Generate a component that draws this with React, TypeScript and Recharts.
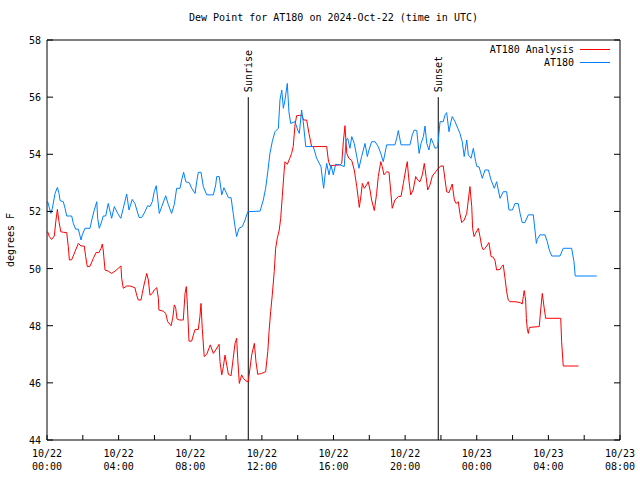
import React from 'react';
import { LineChart, Line, XAxis, YAxis, ReferenceLine } from 'recharts';

const FONT = '"DejaVu Sans Mono", "Liberation Mono", monospace';

// hours since 10/22 00:00 UTC
const ANALYSIS_HOURS = [
  0.04, 0.13, 0.26, 0.41, 0.49, 0.58, 0.67, 0.77, 0.91, 1.10, 1.19, 1.25, 1.38, 1.56, 1.75, 1.90,
  2.08, 2.16, 2.25, 2.40, 2.59, 2.74, 2.90, 3.02, 3.09, 3.14, 3.24, 3.42, 3.61, 3.80, 3.98, 4.13,
  4.17, 4.26, 4.45, 4.64, 4.91, 5.01, 5.10, 5.25, 5.32, 5.43, 5.57, 5.66, 5.75, 5.88, 5.99, 6.13,
  6.22, 6.25, 6.49, 6.63, 6.74, 6.93, 7.02, 7.11, 7.19, 7.26, 7.39, 7.61, 7.71, 7.78, 7.84, 7.93,
  8.08, 8.17, 8.27, 8.45, 8.54, 8.60, 8.67, 8.78, 8.92, 9.01, 9.12, 9.29, 9.42, 9.61, 9.66, 9.76,
  9.85, 9.94, 10.04, 10.13, 10.28, 10.40, 10.50, 10.59, 10.65, 10.74, 10.87, 10.96, 11.10, 11.24,
  11.43, 11.58, 11.67, 11.77, 11.99, 12.21, 12.33, 12.40, 12.49, 12.58, 12.69, 12.77, 12.86, 12.97,
  13.05, 13.14, 13.24, 13.29, 13.42, 13.57, 13.66, 13.75, 13.85, 13.94, 14.22, 14.33, 14.50, 14.63,
  14.78, 15.62, 15.71, 15.80, 16.36, 16.46, 16.55, 16.64, 16.74, 16.86, 17.02, 17.16, 17.30, 17.39,
  17.44, 17.54, 17.61, 17.72, 17.85, 17.94, 18.04, 18.13, 18.28, 18.41, 18.50, 18.64, 18.72, 18.82,
  18.97, 19.10, 19.19, 19.28, 19.43, 19.62, 19.77, 19.90, 20.03, 20.12, 20.21, 20.31, 20.45, 20.59,
  20.70, 20.83, 20.96, 21.07, 21.17, 21.26, 21.39, 21.52, 21.71, 21.85, 22.00, 22.13, 22.23, 22.32,
  22.45, 22.56, 22.63, 22.75, 22.84, 22.97, 23.06, 23.16, 23.30, 23.44, 23.53, 23.62, 23.72, 23.77,
  23.85, 23.94, 24.09, 24.18, 24.28, 24.37, 24.46, 24.56, 24.68, 24.80, 24.92, 25.02, 25.11, 25.30,
  25.39, 25.48, 25.58, 25.67, 25.76, 25.86, 26.14, 26.42, 26.54, 26.60, 26.65, 26.73, 26.77, 26.82,
  26.88, 26.94, 27.49, 27.57, 27.66, 27.75, 27.85, 28.69, 28.74, 28.83, 29.68,
];
const ANALYSIS_DEWPOINT = [
  51.29, 51.12, 51.02, 51.14, 51.64, 52.07, 51.64, 51.29, 51.27, 51.26, 50.77, 50.3, 50.31, 50.59, 50.88, 50.79,
  50.79, 50.42, 50.07, 50.08, 50.36, 50.56, 50.56, 50.71, 50.86, 50.65, 49.95, 49.91, 49.83, 49.91, 50.01, 50.09,
  49.66, 49.31, 49.39, 49.39, 49.33, 49.07, 48.9, 48.9, 49.13, 49.46, 49.83, 49.6, 49.07, 49.13, 49.25, 49.33,
  48.96, 48.55, 48.51, 48.43, 48.14, 48.0, 48.26, 48.73, 48.61, 48.24, 48.2, 48.2, 49.13, 49.37, 48.73, 47.46,
  47.46, 47.67, 47.87, 47.87, 48.32, 48.78, 47.91, 46.92, 47.0, 47.15, 47.33, 47.03, 47.15, 47.35, 46.74, 46.28,
  46.57, 46.97, 46.62, 46.3, 46.25, 46.86, 47.38, 47.56, 46.86, 45.98, 46.28, 46.16, 46.07, 46.04,
  46.97, 47.38, 46.74, 46.3, 46.33, 46.39, 47.09, 47.79, 48.49, 49.07, 49.89, 50.71, 51.06, 51.35,
  51.76, 52.52, 53.39, 53.74, 53.65, 53.88, 54.03, 54.27, 55.03, 55.35, 55.37, 55.2, 55.2, 54.73,
  54.27, 54.27, 53.8, 53.6, 53.63, 53.68, 54.44, 55.0, 54.03, 53.86, 53.78, 53.45, 52.87, 52.42,
  52.14, 52.58, 52.98, 52.81, 52.93, 53.04, 52.75, 52.4, 52.03, 52.63, 53.22, 53.74, 53.57, 53.28,
  53.39, 53.37, 52.75, 52.11, 52.4, 52.52, 52.53, 52.98, 53.45, 53.74, 53.1, 52.58, 52.75, 53.22,
  53.1, 53.04, 53.28, 53.68, 53.22, 52.75, 52.93, 53.24, 53.39, 53.51, 53.59, 53.59, 53.1, 52.69,
  52.66, 52.84, 52.96, 52.4, 52.28, 52.34, 51.93, 51.61, 51.7, 51.93, 52.4, 52.87, 52.17, 51.41,
  51.12, 51.24, 51.41, 51.12, 50.77, 50.65, 50.71, 50.79, 50.91, 50.42, 50.4, 50.28, 49.95, 49.97,
  50.07, 50.13, 49.66, 49.19, 48.9, 48.84, 48.84, 48.81, 48.76, 49.02, 49.23, 48.9, 48.26, 47.9,
  47.73, 47.94, 47.97, 48.55, 49.13, 48.69, 48.26, 48.26, 47.44, 46.59, 46.59,
];

const STATION_HOURS = [
  0.04, 0.11, 0.22, 0.30, 0.45, 0.58, 0.67, 0.73, 0.91, 1.01, 1.10, 1.38, 1.47, 1.60, 1.75, 1.90,
  1.97, 2.12, 2.40, 2.50, 2.64, 2.78, 2.83, 2.92, 3.05, 3.14, 3.28, 3.42, 3.61, 3.76, 3.95, 4.12,
  4.26, 4.45, 4.58, 4.76, 4.91, 5.14, 5.29, 5.47, 5.62, 5.75, 5.88, 5.99, 6.10, 6.18, 6.27, 6.41,
  6.63, 6.77, 6.96, 7.11, 7.24, 7.43, 7.52, 7.63, 7.75, 7.95, 8.08, 8.27, 8.36, 8.45, 8.60, 8.73,
  8.92, 9.29, 9.42, 9.48, 9.62, 9.76, 9.88, 10.00, 10.13, 10.28, 10.40, 10.50, 10.59, 10.72, 10.91,
  11.06, 11.21, 11.90, 12.08, 12.21, 12.33, 12.45, 12.58, 12.73, 12.92, 13.01, 13.11, 13.20, 13.29,
  13.42, 13.51, 13.61, 13.85, 14.00, 14.09, 14.22, 14.31, 14.45, 14.87, 15.06, 15.30, 15.40, 15.45,
  15.53, 15.62, 15.75, 15.86, 15.99, 16.12, 16.36, 16.60, 16.70, 16.79, 16.92, 17.02, 17.16, 17.30,
  17.42, 17.57, 17.76, 17.89, 17.98, 18.13, 18.32, 18.50, 18.64, 18.78, 18.97, 19.43, 19.53, 19.62,
  19.77, 20.27, 20.40, 20.51, 20.65, 20.78, 20.89, 21.02, 21.11, 21.21, 21.33, 21.45, 21.57, 21.67,
  21.82, 21.89, 21.95, 22.13, 22.23, 22.32, 22.45, 22.56, 22.63, 22.79, 22.94, 23.06, 23.19, 23.30,
  23.44, 23.53, 23.68, 23.81, 23.94, 24.01, 24.13, 24.31, 24.46, 24.65, 24.80, 24.98, 25.11, 25.30,
  25.48, 25.67, 25.80, 25.99, 26.14, 26.32, 26.42, 26.54, 26.69, 26.88, 27.16, 27.25, 27.33, 27.38,
  27.53, 27.81, 27.94, 28.05, 28.19, 28.65, 28.83, 29.30, 29.43, 29.50, 30.70,
];
const STATION_DEWPOINT = [
  52.34, 52.17, 51.93, 52.11, 52.63, 52.84, 52.63, 52.38, 52.34, 52.11, 51.84, 51.84, 51.58, 51.38, 51.38, 51.0,
  51.18, 51.41, 51.41, 51.7, 52.05, 52.34, 51.76, 51.41, 51.64, 51.84, 51.84, 52.28, 51.76, 52.17, 51.93, 51.76,
  52.11, 52.61, 52.05, 52.42, 52.28, 51.79, 51.79, 51.99, 52.2, 52.17, 52.34, 52.69, 52.9, 52.46, 51.93, 52.17,
  52.55, 52.25, 51.93, 52.25, 52.81, 52.81, 53.1, 53.37, 53.04, 53.0, 52.81, 52.63, 53.04, 53.37, 53.37, 52.87,
  52.58, 52.58, 52.93, 53.22, 53.22, 52.58, 52.83, 52.67, 52.48, 52.48, 51.93, 51.47, 51.12, 51.41, 51.47,
  51.7, 51.99, 52.01, 52.4, 52.81, 53.39, 54.03, 54.44, 54.79, 54.91, 55.9, 56.25, 55.61, 55.9,
  56.48, 55.49, 55.08, 55.14, 54.85, 54.73, 55.55, 55.14, 54.27, 54.27, 53.86, 53.57, 53.04, 52.81,
  53.28, 53.68, 53.28, 53.63, 53.28, 53.65, 53.63, 53.57, 54.5, 54.56, 54.21, 54.62, 54.38, 53.92,
  53.51, 53.92, 54.38, 53.92, 54.15, 54.44, 54.44, 54.27, 54.03, 53.74, 54.33, 54.33, 54.56, 54.83,
  54.33, 54.33, 54.68, 54.85, 54.83, 54.03, 54.38, 54.62, 54.99, 54.38, 54.15, 54.56, 54.38, 54.21,
  54.24, 54.73, 55.14, 55.14, 55.38, 55.46, 54.79, 55.14, 55.32, 55.14, 54.91, 54.73, 54.44, 53.92,
  54.5, 53.98, 53.86, 54.21, 53.74, 53.57, 53.56, 53.16, 53.45, 53.45, 53.1, 52.81, 53.04, 52.46,
  52.69, 52.69, 52.05, 52.05, 52.28, 52.27, 51.93, 51.61, 51.61, 51.88, 51.88, 51.35, 50.88, 51.02,
  51.18, 51.18, 50.94, 50.65, 50.44, 50.44, 50.71, 50.71, 50.24, 49.74, 49.74,
];

const Y_TICKS = [44, 46, 48, 50, 52, 54, 56, 58];
const X_TICKS = [0, 2, 4, 6, 8, 10, 12, 14, 16, 18, 20, 22, 24, 26, 28, 30, 32];
const SUNRISE_HOUR = 11.24;
const SUNSET_HOUR = 21.85;

const SERIES = [
  { name: 'AT180 Analysis', color: '#ff0000' },
  { name: 'AT180', color: '#0080ff' },
];

const analysisData = ANALYSIS_HOURS.map((h, i) => ({ hour: h, value: ANALYSIS_DEWPOINT[i] }));
const stationData = STATION_HOURS.map((h, i) => ({ hour: h, value: STATION_DEWPOINT[i] }));

function TimeTick({ x, y, payload }: any) {
  const h = payload.value as number;
  if (h % 4 !== 0) return <g />;
  const day = h < 24 ? '10/22' : '10/23';
  const hh = String(h % 24).padStart(2, '0');
  return (
    <text x={x} y={y} textAnchor="middle" fontFamily={FONT} fontSize={10} fill="#000">
      <tspan x={x} dy={9}>{day}</tspan>
      <tspan x={x} dy={13}>{hh}:00</tspan>
    </text>
  );
}

function ValueTick({ x, y, payload }: any) {
  return (
    <text x={x} y={y} dy={4} textAnchor="end" fontFamily={FONT} fontSize={10} fill="#000">
      {payload.value}
    </text>
  );
}

const blank = () => <g />;

function SunLabel({ viewBox, text }: any) {
  const ax = viewBox.x + 4;
  const ay = viewBox.y - 5;
  return (
    <text x={ax} y={ay} transform={`rotate(-90, ${ax}, ${ay})`} fontFamily={FONT} fontSize={10} fill="#000">
      {text}
    </text>
  );
}

export default function App() {
  return (
    <div style={{ position: 'absolute', left: 0, top: 0, width: 640, height: 480, background: '#fff' }}>
      <div style={{ position: 'absolute', left: 47, top: 12, width: 573, textAlign: 'center', fontFamily: FONT, fontSize: 10 }}>
        Dew Point for AT180 on 2024-Oct-22 (time in UTC)
      </div>
      <div style={{ position: 'absolute', left: 10, top: 240, fontFamily: FONT, fontSize: 10, whiteSpace: 'nowrap', transform: 'translate(-50%, -50%) rotate(-90deg)' }}>
        degrees F
      </div>
      <LineChart width={640} height={480} margin={{ top: 0, right: 0, bottom: 0, left: 0 }}>
        <XAxis
          dataKey="hour"
          type="number"
          domain={[0, 32]}
          ticks={X_TICKS}
          allowDataOverflow
          height={40}
          stroke="#000"
          tickSize={-5}
          tickMargin={13}
          tick={<TimeTick />}
          interval={0}
        />
        <XAxis
          xAxisId="top"
          orientation="top"
          type="number"
          domain={[0, 32]}
          ticks={X_TICKS}
          allowDataOverflow
          height={40}
          stroke="#000"
          tickSize={-5}
          tick={blank}
          interval={0}
        />
        <YAxis
          type="number"
          domain={[44, 58]}
          ticks={Y_TICKS}
          allowDataOverflow
          width={47}
          stroke="#000"
          tickSize={-6}
          tickMargin={12}
          tick={<ValueTick />}
          interval={0}
        />
        <YAxis
          yAxisId="right"
          orientation="right"
          type="number"
          domain={[44, 58]}
          ticks={Y_TICKS}
          allowDataOverflow
          width={20}
          stroke="#000"
          tickSize={-6}
          tick={blank}
          interval={0}
        />
        <ReferenceLine
          segment={[{ x: SUNRISE_HOUR, y: 44 }, { x: SUNRISE_HOUR, y: 56 }]}
          stroke="#000"
          label={<SunLabel text="Sunrise" />}
        />
        <ReferenceLine
          segment={[{ x: SUNSET_HOUR, y: 44 }, { x: SUNSET_HOUR, y: 56 }]}
          stroke="#000"
          label={<SunLabel text="Sunset" />}
        />
        <Line
          data={analysisData}
          dataKey="value"
          name={SERIES[0].name}
          stroke={SERIES[0].color}
          strokeWidth={1}
          dot={false}
          type="linear"
          isAnimationActive={false}
        />
        <Line
          data={stationData}
          dataKey="value"
          name={SERIES[1].name}
          stroke={SERIES[1].color}
          strokeWidth={1}
          dot={false}
          type="linear"
          isAnimationActive={false}
        />
      </LineChart>
      <div style={{ position: 'absolute', right: 30, top: 43, fontFamily: FONT, fontSize: 10, lineHeight: '13px' }}>
        {SERIES.map(s => (
          <div key={s.name} style={{ display: 'flex', justifyContent: 'flex-end', alignItems: 'center' }}>
            <span>{s.name}</span>
            <span style={{ display: 'inline-block', width: 30, height: 1, background: s.color, marginLeft: 6 }} />
          </div>
        ))}
      </div>
    </div>
  );
}
